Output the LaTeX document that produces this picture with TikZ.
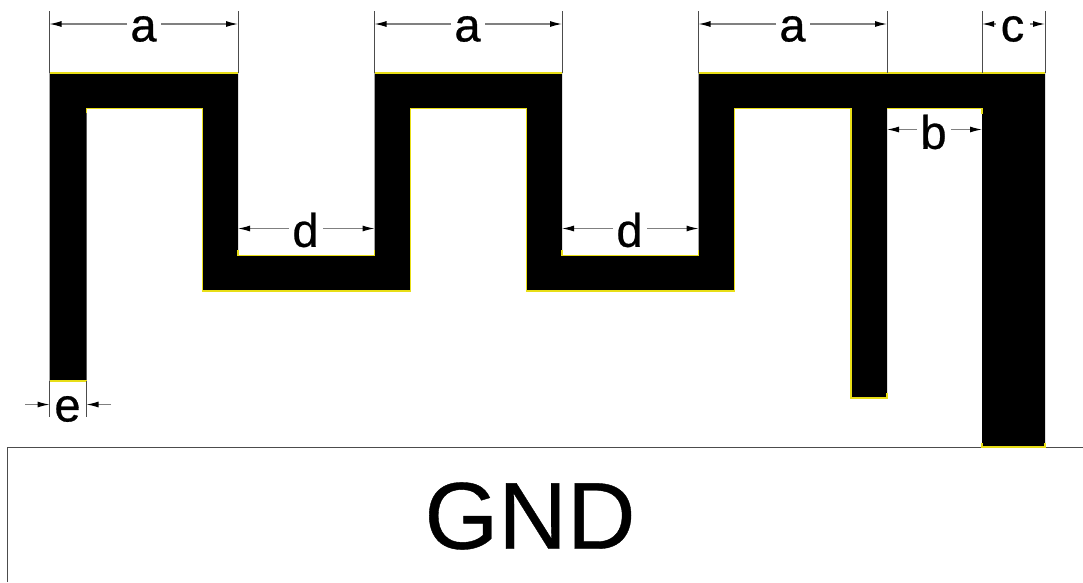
\documentclass[tikz,border=0pt]{standalone}
\usepackage{fontspec}
\setmainfont{Liberation Sans}
\newfontfamily\heavydim[FakeBold=0.6]{Liberation Sans}
\newfontfamily\heavygnd[FakeBold=0.4]{Liberation Sans}
\usetikzlibrary{arrows.meta}
\tikzset{
  x=1pt,y=-1pt,
  dimline/.style={draw=black!50,line width=1.1pt},
  tipline/.style={dimline,-{Latex[length=12pt,width=6pt,black]}},
  extline/.style={draw=black!70,line width=0.8pt},
  edge/.style={draw=yellow!90!black,line width=1.1pt},
  dimtext/.style={font=\heavydim\fontsize{47}{47}\selectfont,inner sep=0pt,text=black},
  gndtext/.style={font=\heavygnd\fontsize{95}{95}\selectfont,inner sep=0pt,text=black},
  gndline/.style={draw=black!70,line width=0.8pt},
}
\begin{document}
\begin{tikzpicture}
\useasboundingbox (0,0) rectangle (1083,582);
\fill[white] (0,0) rectangle (1083,582);
% ground outline
\coordinate (g1) at (7,582); \coordinate (g2) at (7,447); \coordinate (g3) at (1083,447);
\draw[gndline] (g1) -- (g2) -- (g3);
% antenna trace
\fill[black] (49.5,73) -- (238,73) -- (238,255.5) -- (374.5,255.5) -- (374.5,73) -- (562,73) -- (562,255.5) -- (698.5,255.5) -- (698.5,73) -- (1045,73) -- (1045,447) -- (982,447) -- (982,108.5) -- (887,108.5) -- (887,398) -- (851,398) -- (851,108.5) -- (734.5,108.5) -- (734.5,291) -- (526.5,291) -- (526.5,108.5) -- (410.5,108.5) -- (410.5,291) -- (202.5,291) -- (202.5,108.5) -- (86.5,108.5) -- (86.5,381) -- (49.5,381) -- cycle;
% yellow edges
\foreach \a/\b in {49.5/238,374.5/562,698.5/1045}{\draw[edge] (\a,73) -- (\b,73);}
\draw[edge] (86.5,113) -- (86.5,108.5) -- (202.5,108.5) -- (202.5,291) -- (410.5,291) -- (410.5,108.5) -- (526.5,108.5) -- (526.5,291) -- (734.5,291) -- (734.5,108.5) -- (851,108.5) -- (851,398) -- (887,398) -- (887,393);
\draw[edge] (887,108.5) -- (982,108.5) -- (982,114);
\draw[edge] (238,250) -- (238,255.5) -- (374.5,255.5) -- (374.5,250);
\draw[edge] (562,250) -- (562,255.5) -- (698.5,255.5) -- (698.5,250);
\draw[edge] (49.5,381) -- (86.5,381);
\draw[edge] (982,443) -- (982,447) -- (1045,447) -- (1045,443);
% extension lines
\foreach \n/\x/\ya/\yb in {A/49.5/11/73,B/238/11/73,C/374.5/11/73,D/562/11/73,E/698.5/11/73,F/887/11/73,G/982/11/73,H/1045/11/73,I/49.5/381/417,J/86.5/381/417}{
  \coordinate (\n1) at (\x,\ya); \coordinate (\n2) at (\x,\yb);
  \draw[extline] (\n1) -- (\n2);
}
% dimension a (three times)
\node[dimtext] (a1) at (143.5,29) {a};
\node[dimtext] (a2) at (467.5,29) {a};
\node[dimtext] (a3) at (792.5,29) {a};
\foreach \t/\l/\r/\gl/\gr in {a1/49.5/238/127/161,a2/374.5/562/451/485,a3/698.5/887/776/810}{
  \coordinate (\t l) at (\l,24); \coordinate (\t r) at (\r,24);
  \coordinate (\t gl) at (\gl,24); \coordinate (\t gr) at (\gr,24);
  \draw[tipline] (\t gl) -- (\t l);
  \draw[tipline] (\t gr) -- (\t r);
}
% dimension c
\node[dimtext] (c1) at (1012.5,29) {c};
\coordinate (cl) at (982,24); \coordinate (cr) at (1045,24);
\coordinate (cgl) at (996,24); \coordinate (cgr) at (1030,24);
\draw[tipline] (cgl) -- (cl);
\draw[tipline] (cgr) -- (cr);
% dimension b
\node[dimtext] (b1) at (933.5,132) {b};
\coordinate (bl) at (887,129.5); \coordinate (br) at (982,129.5);
\coordinate (bgl) at (917,129.5); \coordinate (bgr) at (951,129.5);
\draw[tipline] (bgl) -- (bl);
\draw[tipline] (bgr) -- (br);
% dimension d
\node[dimtext] (d1) at (305.5,230) {d};
\node[dimtext] (d2) at (629.5,230) {d};
\foreach \t/\l/\r/\gl/\gr in {d1/238/374.5/289/323,d2/562/698.5/613/647}{
  \coordinate (\t l) at (\l,228.5); \coordinate (\t r) at (\r,228.5);
  \coordinate (\t gl) at (\gl,228.5); \coordinate (\t gr) at (\gr,228.5);
  \draw[tipline] (\t gl) -- (\t l);
  \draw[tipline] (\t gr) -- (\t r);
}
% dimension e
\node[dimtext] (e1) at (67.5,409) {e};
\coordinate (el) at (49.5,404.5); \coordinate (er) at (86.5,404.5);
\coordinate (efl) at (25,404.5); \coordinate (efr) at (111,404.5);
\draw[tipline] (efl) -- (el);
\draw[tipline] (efr) -- (er);
% GND
\node[gndtext] (gnd) at (530,516) {GND};
\end{tikzpicture}
\end{document}
